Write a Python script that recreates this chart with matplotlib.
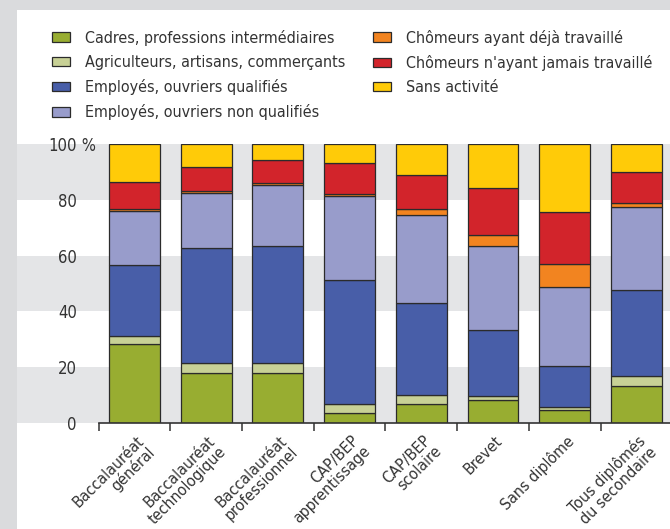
import numpy as np
import matplotlib
matplotlib.use('Agg')
import matplotlib.pyplot as plt
from matplotlib.patches import Rectangle

plt.rcParams['font.family'] = ['DejaVu Sans']
plt.rcParams['font.stretch'] = 'condensed'

categories = ['Baccalauréat\ngénéral', 'Baccalauréat\ntechnologique', 'Baccalauréat\nprofessionnel',
              'CAP/BEP\napprentissage', 'CAP/BEP\nscolaire', 'Brevet', 'Sans diplôme',
              'Tous diplômés\ndu secondaire']
series_names = ['Cadres, professions intermédiaires', 'Agriculteurs, artisans, commerçants',
                'Employés, ouvriers qualifiés', 'Employés, ouvriers non qualifiés',
                'Chômeurs ayant déjà travaillé', "Chômeurs n'ayant jamais travaillé", 'Sans activité']
cadres = [28.3, 18.0, 18.0, 3.5, 6.9, 8.1, 4.7, 13.4]
agriculteurs = [2.9, 3.6, 3.6, 3.3, 3.0, 1.7, 1.2, 3.3]
qualifies = [25.4, 41.1, 41.7, 44.3, 33.1, 23.4, 14.4, 30.9]
non_qualifies = [19.3, 19.7, 22.1, 30.2, 31.4, 30.1, 28.6, 29.7]
chom_deja = [0.9, 0.6, 0.8, 0.7, 2.2, 4.1, 8.0, 1.7]
chom_jamais = [9.5, 8.8, 7.9, 11.1, 12.4, 16.8, 18.7, 11.0]
sans_activite = [13.7, 8.2, 5.9, 6.9, 11.0, 15.8, 24.4, 10.0]
yticks = [0, 20, 40, 60, 80, 100]

colors = ['#98ad31', '#c8d196', '#485ea8', '#989ccb', '#f28420', '#d2242b', '#ffcb08']
text_col = '#333333'

W, H = 670, 529
fig = plt.figure(figsize=(W / 100, H / 100), dpi=100, facecolor='#dadbdd')
fig.patches.append(Rectangle((17 / W, 0), 1, 1 - 10 / H, transform=fig.transFigure,
                             facecolor='white', edgecolor='none', zorder=-10))

ax = fig.add_axes([17 / W, (H - 423) / H, (W - 17) / W, 279 / H])
ax.set_facecolor('none')
step = 71.7
x0 = -(134.5 - 17) / step
ax.set_xlim(x0, x0 + (W - 17) / step)
ax.set_ylim(0, 100)

# bandes grises alternées
for lo in (0, 40, 80):
    ax.axhspan(lo, lo + 20, color='#e4e5e7', lw=0, zorder=0)

x = np.arange(len(categories))
data = [cadres, agriculteurs, qualifies, non_qualifies, chom_deja, chom_jamais, sans_activite]
bottom = np.zeros(len(categories))
handles = []
for vals, c, name in zip(data, colors, series_names):
    b = ax.bar(x, vals, 0.71, bottom=bottom, color=c, edgecolor='#2b2b2b', linewidth=0.9,
               label=name, zorder=2)
    handles.append(b)
    bottom += np.array(vals)

for s in ['left', 'right', 'top']:
    ax.spines[s].set_visible(False)
ax.spines['bottom'].set_color('#333333')
ax.spines['bottom'].set_linewidth(1.2)
ax.spines['bottom'].set_bounds(-0.5, ax.get_xlim()[1])
ax.spines['bottom'].set_zorder(3)

# graduations entre les barres
ax.set_xticks(np.arange(-0.5, len(categories) - 1, 1.0))
ax.set_xticklabels([])
ax.tick_params(axis='x', length=6, width=1.1, color='#333333', direction='out')

ax.set_yticks(yticks, [str(v) for v in yticks])
ax.tick_params(axis='y', length=0, pad=-43, labelsize=12, labelcolor=text_col)
ax.text(-0.802, 100, ' %', ha='left', va='center_baseline', fontsize=12, color=text_col)

for i, lab in enumerate(categories):
    ax.text(i + 0.02, -0.035, lab, transform=ax.get_xaxis_transform(), rotation=45,
            rotation_mode='anchor', ha='right', va='top', multialignment='right',
            fontsize=11.5, color=text_col, linespacing=1.05)

fig.legend(handles, series_names, loc='upper left', bbox_to_anchor=(52 / W, 1 - 30 / H),
           ncol=2, frameon=False, fontsize=11.5, handlelength=1.12, handleheight=0.56,
           handletextpad=0.94, labelspacing=0.57, columnspacing=1.75, borderpad=0,
           borderaxespad=0, labelcolor=text_col)

fig.savefig('out.png', dpi=100, facecolor=fig.get_facecolor())
